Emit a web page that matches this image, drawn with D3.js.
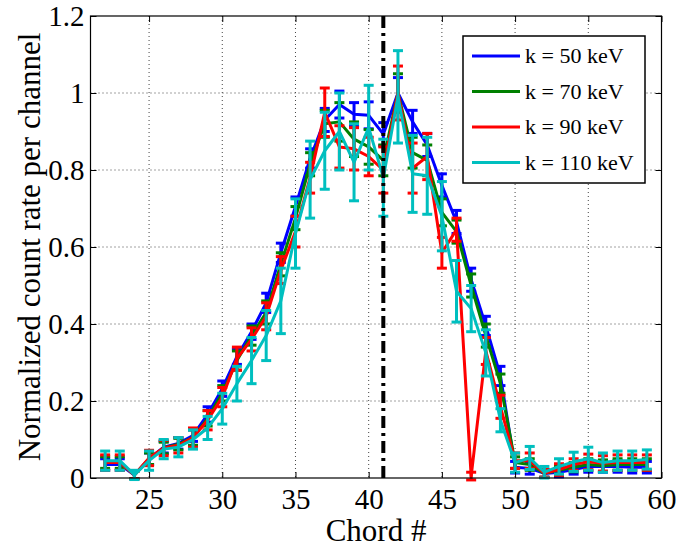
<!DOCTYPE html>
<html>
<head>
<meta charset="utf-8">
<script src="https://cdn.jsdelivr.net/npm/d3@7"></script>
<style>
  body { margin: 0; background: #fff; }
  svg { font-family: "Liberation Serif", "Times New Roman", serif; }
</style>
</head>
<body>
<svg id="chart" width="678" height="547"></svg>
<script>
// chords 22..59
var chords = d3.range(22, 60);

var blueVals  = [0.035,0.035,0.008,0.05,0.08,0.09,0.11,0.165,0.232,0.315,0.38,0.455,0.585,0.705,0.83,0.93,0.97,0.945,0.942,0.893,1.0,0.925,0.865,0.76,0.665,0.515,0.395,0.265,0.028,0.025,0.012,0.015,0.022,0.03,0.03,0.03,0.028,0.028];
var greenVals = [0.04,0.04,0.008,0.05,0.078,0.088,0.105,0.155,0.22,0.305,0.37,0.43,0.555,0.675,0.815,0.92,0.925,0.88,0.86,0.825,1.0,0.845,0.825,0.69,0.64,0.5,0.37,0.245,0.04,0.035,0.012,0.02,0.028,0.035,0.032,0.035,0.035,0.035];
var redVals   = [0.04,0.04,0.008,0.052,0.078,0.085,0.105,0.15,0.21,0.31,0.36,0.42,0.54,0.64,0.78,0.95,0.86,0.855,0.835,0.8,1.0,0.805,0.835,0.585,0.645,0.005,0.33,0.185,0.045,0.045,0.012,0.022,0.035,0.042,0.038,0.04,0.04,0.04];
var cyanVals  = [0.045,0.045,0.008,0.045,0.075,0.08,0.1,0.13,0.18,0.245,0.305,0.37,0.46,0.635,0.775,0.85,0.9,0.82,0.91,0.78,0.99,0.79,0.785,0.68,0.485,0.44,0.325,0.15,0.04,0.052,0.015,0.03,0.042,0.05,0.04,0.045,0.045,0.048];

var blueErr  = [0.015,0.015,0.01,0.015,0.015,0.015,0.015,0.02,0.02,0.02,0.02,0.025,0.025,0.025,0.025,0.03,0.035,0.03,0.035,0.03,0.04,0.03,0.03,0.03,0.03,0.03,0.025,0.025,0.015,0.015,0.01,0.012,0.012,0.015,0.015,0.015,0.015,0.015];
var greenErr = [0.015,0.015,0.01,0.015,0.015,0.015,0.02,0.02,0.02,0.025,0.025,0.03,0.03,0.03,0.03,0.035,0.05,0.045,0.045,0.04,0.05,0.04,0.04,0.035,0.03,0.03,0.03,0.025,0.015,0.015,0.01,0.012,0.012,0.015,0.015,0.015,0.015,0.015];
var redErr   = [0.02,0.02,0.01,0.02,0.02,0.02,0.025,0.025,0.025,0.03,0.03,0.035,0.035,0.04,0.04,0.063,0.055,0.055,0.05,0.06,0.07,0.065,0.06,0.04,0.03,0.01,0.035,0.03,0.02,0.02,0.01,0.015,0.015,0.02,0.02,0.02,0.02,0.02];
var cyanErr  = [0.025,0.025,0.012,0.025,0.025,0.025,0.025,0.03,0.04,0.045,0.06,0.065,0.085,0.09,0.1,0.1,0.1,0.1,0.11,0.1,0.12,0.1,0.1,0.09,0.08,0.06,0.06,0.03,0.025,0.03,0.015,0.02,0.025,0.03,0.025,0.025,0.025,0.025];

var seriesNames  = ['k = 50 keV', 'k = 70 keV', 'k = 90 keV', 'k = 110 keV'];
var seriesColors = ['#0000ff', '#008000', '#ff0000', '#00bfbf'];
var seriesVals   = [blueVals, greenVals, redVals, cyanVals];
var seriesErrs   = [blueErr, greenErr, redErr, cyanErr];

var xTicks = [25, 30, 35, 40, 45, 50, 55, 60];
var yTicks = [0, 0.2, 0.4, 0.6, 0.8, 1, 1.2];
var markerChord = 41;

var svg = d3.select('#chart');
var pLeft = 90.5, pRight = 661.5, pTop = 16, pBottom = 478;

var x = d3.scaleLinear().domain([21, 60]).range([pLeft, pRight]);
var y = d3.scaleLinear().domain([0, 1.2]).range([pBottom, pTop]);

//grid
var grid = svg.append('g');
grid.selectAll('.vg')
  .data(xTicks.filter(d => d > 21 && d < 60))
  .join('line')
  .attr('x1', d => x(d)).attr('x2', d => x(d))
  .attr('y1', pTop).attr('y2', pBottom)
  .style('stroke', '#444').style('stroke-width', 1).style('stroke-dasharray', '1,3');
grid.selectAll('.hg')
  .data(yTicks.filter(d => d > 0 && d < 1.2))
  .join('line')
  .attr('x1', pLeft).attr('x2', pRight)
  .attr('y1', d => y(d)).attr('y2', d => y(d))
  .style('stroke', '#444').style('stroke-width', 1).style('stroke-dasharray', '1,3');

//series
var line = d3.line().x((d, i) => x(chords[i])).y(d => y(d));
seriesVals.forEach(function(vals, s) {
  var g = svg.append('g');
  var col = seriesColors[s];
  var errs = seriesErrs[s];
  g.append('path')
    .attr('d', line(vals))
    .style('fill', 'none').style('stroke', col).style('stroke-width', 3)
    .style('stroke-linejoin', 'round');
  var bars = g.selectAll('.eb').data(vals).join('g');
  bars.append('line')
    .attr('x1', (d, i) => x(chords[i])).attr('x2', (d, i) => x(chords[i]))
    .attr('y1', (d, i) => y(d - errs[i])).attr('y2', (d, i) => y(d + errs[i]))
    .style('stroke', col).style('stroke-width', 3);
  [-1, 1].forEach(function(sg) {
    bars.append('line')
      .attr('x1', (d, i) => x(chords[i]) - 5).attr('x2', (d, i) => x(chords[i]) + 5)
      .attr('y1', (d, i) => y(d + sg * errs[i])).attr('y2', (d, i) => y(d + sg * errs[i]))
      .style('stroke', col).style('stroke-width', 3);
  });
});

//dash-dot marker line
svg.append('line')
  .attr('x1', x(markerChord)).attr('x2', x(markerChord))
  .attr('y1', pBottom).attr('y2', pTop)
  .style('stroke', '#000').style('stroke-width', 4)
  .style('stroke-dasharray', '12,5,3,5');

//box and ticks
svg.append('rect')
  .attr('x', pLeft).attr('y', pTop)
  .attr('width', pRight - pLeft).attr('height', pBottom - pTop)
  .style('fill', 'none').style('stroke', '#000').style('stroke-width', 1.2);

var axB = svg.append('g').attr('transform', `translate(0,${pBottom})`)
  .call(d3.axisBottom(x).tickValues(xTicks).tickSizeInner(-6).tickSizeOuter(0).tickPadding(10));
var axL = svg.append('g').attr('transform', `translate(${pLeft},0)`)
  .call(d3.axisLeft(y).tickValues(yTicks).tickFormat(d3.format('~g')).tickSizeInner(-6).tickSizeOuter(0).tickPadding(6));
var axT = svg.append('g').attr('transform', `translate(0,${pTop})`)
  .call(d3.axisTop(x).tickValues(xTicks).tickSizeInner(-6).tickSizeOuter(0).tickFormat(''));
var axR = svg.append('g').attr('transform', `translate(${pRight},0)`)
  .call(d3.axisRight(y).tickValues(yTicks).tickSizeInner(-6).tickSizeOuter(0).tickFormat(''));
[axB, axL, axT, axR].forEach(function(a) {
  a.select('.domain').remove();
  a.selectAll('.tick line').style('stroke', '#000');
  a.selectAll('text').style('font-family', '"Liberation Serif", "Times New Roman", serif')
    .style('font-size', '29px').style('fill', '#000');
});

//labels
svg.append('text')
  .attr('x', (pLeft + pRight) / 2).attr('y', 541)
  .style('text-anchor', 'middle').style('font-size', '31px')
  .text('Chord #');
svg.append('text')
  .attr('transform', `translate(40,${(pTop + pBottom) / 2}) rotate(-90)`)
  .style('text-anchor', 'middle').style('font-size', '31px')
  .text('Normalized count rate per channel');

//legend
var legend = svg.append('g').attr('transform', 'translate(463,36)');
legend.append('rect')
  .attr('width', 182).attr('height', 147)
  .style('fill', '#fff').style('stroke', '#000').style('stroke-width', 1.5);
seriesNames.forEach(function(name, i) {
  var ly = 20 + i * 35.5;
  legend.append('line')
    .attr('x1', 9).attr('x2', 57).attr('y1', ly).attr('y2', ly)
    .style('stroke', seriesColors[i]).style('stroke-width', 3);
  legend.append('text')
    .attr('x', 62).attr('y', ly + 7)
    .style('font-size', '22px')
    .text(name);
});
</script>
</body>
</html>
